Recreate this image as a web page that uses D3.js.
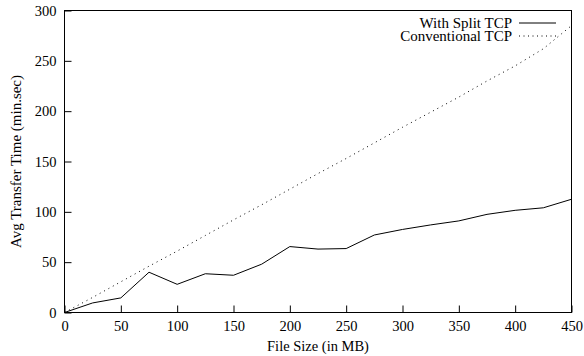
<!DOCTYPE html>
<html>
<head>
<meta charset="utf-8">
<script src="https://cdn.jsdelivr.net/npm/d3@7"></script>
<style>
  html, body { margin: 0; padding: 0; background: #fff; }
  svg { display: block; }
  svg text { font-family: 'Liberation Serif', 'Times New Roman', Times, 'DejaVu Serif', serif; font-size: 14px; fill: #000; }
</style>
</head>
<body>
<script>
const fileSizes = [0, 25, 50, 75, 100, 125, 150, 175, 200, 225, 250, 275, 300, 325, 350, 375, 400, 425, 450];
const splitTCP = [0, 9.5, 14.5, 40, 28, 38.5, 37, 48, 65.5, 63, 63.5, 77, 82.5, 87, 91, 97.5, 101.5, 104, 112.5];
const conventionalTCP = [0, 15, 30.5, 46, 61, 76.5, 92, 107, 122.5, 138, 153, 168.5, 184, 199, 214, 230, 245, 262, 285];
const xTicks = [0, 50, 100, 150, 200, 250, 300, 350, 400, 450];
const yTicks = [0, 50, 100, 150, 200, 250, 300];
const seriesNames = ["With Split TCP", "Conventional TCP"];
const xLabel = "File Size (in MB)";
const yLabel = "Avg Transfer Time (min.sec)";

const W = 584, H = 356;
const mLeft = 64.5, mRight = 571.5, mTop = 10.5, mBottom = 312.5;

const svg = d3.select("body").append("svg").attr("width", W).attr("height", H);

const x = d3.scaleLinear().domain([0, 450]).range([mLeft, mRight]);
const y = d3.scaleLinear().domain([0, 300]).range([mBottom, mTop]);

const xAxis = d3.axisBottom(x).tickValues(xTicks).tickSizeInner(-7).tickSizeOuter(0).tickPadding(10);
const yAxis = d3.axisLeft(y).tickValues(yTicks).tickSizeInner(-7).tickSizeOuter(0).tickPadding(8);

const gx = svg.append("g").attr("transform", `translate(0,${mBottom})`).call(xAxis);
const gy = svg.append("g").attr("transform", `translate(${mLeft},0)`).call(yAxis);
[gx, gy].forEach(g => {
  g.select(".domain").remove();
  g.attr("font-family", null).attr("font-size", null);
  g.selectAll("line").attr("stroke", "#000").attr("stroke-width", 1);
  g.selectAll("text").attr("fill", "#000").style("font-size", "14.5px");
});
gx.selectAll("text").attr("dy", null).attr("y", 18.5);
gy.selectAll("text").attr("x", -8).attr("dy", "0.33em");

svg.append("rect").attr("x", mLeft).attr("y", mTop).attr("width", mRight - mLeft).attr("height", mBottom - mTop)
  .attr("fill", "none").attr("stroke", "#000").attr("stroke-width", 1);

const line = d3.line().x((d, i) => x(fileSizes[i])).y(d => y(d));

svg.append("path").datum(splitTCP).attr("d", line)
  .attr("fill", "none").attr("stroke", "#000").attr("stroke-width", 1);
svg.append("path").datum(conventionalTCP).attr("d", line)
  .attr("fill", "none").attr("stroke", "#000").attr("stroke-width", 1).attr("stroke-dasharray", "1,4");

const legY = [23, 36];
const legend = svg.append("g");
seriesNames.forEach((name, i) => {
  legend.append("text").attr("x", 512).attr("y", legY[i]).attr("dy", "0.33em")
    .attr("text-anchor", "end").style("font-size", "15px").text(name);
  legend.append("line").attr("x1", 519).attr("x2", 556).attr("y1", legY[i]).attr("y2", legY[i])
    .attr("stroke", "#000").attr("stroke-width", 1)
    .attr("stroke-dasharray", i === 1 ? "1,3.5" : null);
});

svg.append("text").attr("x", (mLeft + mRight) / 2).attr("y", 351).attr("text-anchor", "middle")
  .style("font-size", "14.5px").text(xLabel);
svg.append("text").attr("transform", `translate(21,${(mTop + mBottom) / 2}) rotate(-90)`)
  .attr("text-anchor", "middle").style("font-size", "15px").text(yLabel);
</script>
</body>
</html>
